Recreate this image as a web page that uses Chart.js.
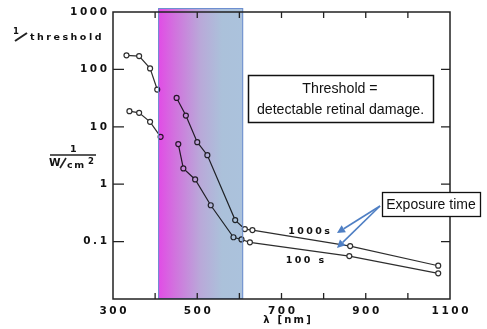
<!DOCTYPE html>
<html>
<head>
<meta charset="utf-8">
<script src="https://cdn.jsdelivr.net/npm/chart.js@4/dist/chart.umd.min.js"></script>
<style>
  html, body { margin: 0; padding: 0; background: #fff; }
  #wrap { width: 487px; height: 329px; }
</style>
</head>
<body>
<div id="wrap"><canvas id="c" width="487" height="329"></canvas></div>
<script>
// ---- data ----
const wl1000  = [332, 362, 388, 405, 451, 473, 500, 524, 590, 613, 631, 863, 1072];
const thr1000 = [176, 171, 104, 44.6, 31.8, 15.7, 5.4, 3.2, 0.237, 0.165, 0.159, 0.0836, 0.038];
const wl100   = [339, 362, 388, 413, 455, 467, 495, 532, 586, 605, 625, 861, 1072];
const thr100  = [18.7, 17.5, 12.2, 6.7, 5.0, 1.88, 1.21, 0.43, 0.119, 0.109, 0.097, 0.056, 0.028];
const gapAfterIndex = 3;             // no line between the UV group and the visible group
const bandNm = [407, 609];           // shaded visible band (nm)
const xTickValues = [300, 500, 700, 900, 1100];
const xTickLabels = ['300', '500', '700', '900', '1100'];
const xMinorTicks = [400, 500, 600, 700, 800, 900, 1000];
const yTickValues = [1000, 100, 10, 1, 0.1];
const yTickLabels = ['1000', '100', '10', '1', '0.1'];
const seriesLabels = ['1000s', '100 s'];

const toPts = (xs, ys) => xs.map((v, i) => ({x: v, y: ys[i]}));
const LINE = '#2e2e2e';

function ds(label, xs, ys) {
  return {
    label, data: toPts(xs, ys),
    borderColor: LINE, borderWidth: 1.2,
    pointRadius: 2.5, pointBorderWidth: 1.2,
    pointBorderColor: LINE, pointBackgroundColor: '#fff',
    tension: 0,
    segment: { borderColor: c => c.p0DataIndex === gapAfterIndex ? 'rgba(0,0,0,0)' : LINE }
  };
}

function spacedText(ctx, text, x, y, align, spacing) {
  ctx.save();
  ctx.letterSpacing = spacing + 'px';
  const w = ctx.measureText(text).width - spacing;
  let sx = x;
  if (align === 'right') sx = x - w;
  else if (align === 'center') sx = x - w / 2;
  ctx.textAlign = 'left';
  ctx.fillText(text, sx, y);
  ctx.restore();
}

const overlay = {
  id: 'overlay',
  beforeDraw(chart) {
    const ctx = chart.ctx;
    ctx.save(); ctx.fillStyle = '#fff'; ctx.fillRect(0, 0, chart.width, chart.height); ctx.restore();
  },
  afterDatasetsDraw(chart) {
    const {ctx, chartArea: a, scales: {x}} = chart;
    const x0 = x.getPixelForValue(bandNm[0]), x1 = x.getPixelForValue(bandNm[1]);
    ctx.save();
    ctx.globalCompositeOperation = 'multiply';
    const g = ctx.createLinearGradient(x0, 0, x1, 0);
    g.addColorStop(0, '#e24be6');
    g.addColorStop(0.2, '#d173de');
    g.addColorStop(0.5, '#b9a9d9');
    g.addColorStop(0.75, '#abc1da');
    g.addColorStop(1, '#abc2dc');
    ctx.fillStyle = g;
    ctx.fillRect(x0, a.top - 4, x1 - x0, a.bottom - a.top + 4);
    ctx.restore();
    ctx.save();
    ctx.strokeStyle = '#6d8fd0'; ctx.lineWidth = 1;
    ctx.strokeRect(x0 + 0.5, a.top - 3.5, x1 - x0 - 1, a.bottom - a.top + 3);
    ctx.restore();
  },
  afterDraw(chart) {
    const {ctx, chartArea: a, scales: {x, y}} = chart;
    ctx.save();
    // frame
    ctx.strokeStyle = '#222'; ctx.lineWidth = 1.5;
    ctx.strokeRect(a.left, a.top, a.right - a.left, a.bottom - a.top);
    ctx.lineWidth = 1.3;
    // y ticks (inward, both sides)
    yTickValues.forEach(v => {
      const py = y.getPixelForValue(v);
      if (py <= a.top + 1) return;
      ctx.beginPath();
      ctx.moveTo(a.left, py); ctx.lineTo(a.left + 11, py);
      ctx.moveTo(a.right, py); ctx.lineTo(a.right - 9, py);
      ctx.stroke();
    });
    // x ticks (inward, top and bottom)
    xMinorTicks.forEach(v => {
      const px = x.getPixelForValue(v);
      ctx.beginPath();
      ctx.moveTo(px, a.bottom); ctx.lineTo(px, a.bottom - 6);
      ctx.moveTo(px, a.top); ctx.lineTo(px, a.top + 6);
      ctx.stroke();
    });
    // tick labels
    ctx.fillStyle = '#111';
    ctx.font = 'bold 10.5px "DejaVu Sans"';
    ctx.textBaseline = 'middle';
    yTickValues.forEach((v, i) => {
      spacedText(ctx, yTickLabels[i], a.left - 6, y.getPixelForValue(v), 'right', 2.6);
    });
    xTickValues.forEach((v, i) => {
      spacedText(ctx, xTickLabels[i], x.getPixelForValue(v), a.bottom + 12, 'center', 2.6);
    });
    // axis titles
    ctx.font = 'bold 9.5px "DejaVu Sans"';
    spacedText(ctx, 'threshold', 30, 38, 'left', 2.5);
    ctx.font = 'bold 8.5px "DejaVu Sans"';
    ctx.fillText('1', 13, 32);
    ctx.beginPath(); ctx.lineWidth = 2; ctx.moveTo(15, 41); ctx.lineTo(27, 33); ctx.stroke();
    // 1 / W/cm2
    ctx.font = 'bold 9.5px "DejaVu Sans"';
    ctx.fillText('1', 70, 150);
    ctx.beginPath(); ctx.lineWidth = 1.3; ctx.moveTo(50, 155); ctx.lineTo(96, 155); ctx.stroke();
    ctx.font = 'bold 10.5px "DejaVu Sans"';
    ctx.fillText('W', 49, 163);
    ctx.beginPath(); ctx.lineWidth = 1.6; ctx.moveTo(60, 168); ctx.lineTo(66, 158); ctx.stroke();
    ctx.font = 'bold 9.5px "DejaVu Sans"';
    spacedText(ctx, 'cm', 67, 166, 'left', 1.5);
    ctx.font = 'bold 8.5px "DejaVu Sans"';
    ctx.fillText('2', 88, 162);
    // x title
    ctx.font = 'bold 10px "DejaVu Sans"';
    spacedText(ctx, '\u03bb [nm]', 287, 320, 'center', 2.2);
    // series labels
    ctx.font = 'bold 9.5px "DejaVu Sans"';
    spacedText(ctx, seriesLabels[0], 309, 232, 'center', 2.4);
    spacedText(ctx, seriesLabels[1], 305, 261, 'center', 2.4);

    // Threshold box
    ctx.fillStyle = '#fff';
    ctx.fillRect(248, 75, 185, 47);
    ctx.strokeStyle = '#111'; ctx.lineWidth = 1.5;
    ctx.strokeRect(248.5, 75.5, 185, 47);
    ctx.fillStyle = '#111';
    ctx.font = '14.2px "Liberation Sans"';
    ctx.textAlign = 'center';
    ctx.fillText('Threshold =', 340, 89);
    ctx.fillText('detectable retinal damage.', 340.5, 110);

    // Exposure time box
    ctx.fillStyle = '#fff';
    ctx.fillRect(382, 192, 98, 24);
    ctx.strokeStyle = '#111'; ctx.lineWidth = 1.3;
    ctx.strokeRect(382.5, 192.5, 98, 24);
    ctx.fillStyle = '#111';
    ctx.font = '14px "Liberation Sans"';
    ctx.fillText('Exposure time', 431, 205);

    // arrows
    const arrow = (x0, y0, x1, y1) => {
      ctx.strokeStyle = '#4f7fc4'; ctx.fillStyle = '#4f7fc4'; ctx.lineWidth = 1.6;
      const ang = Math.atan2(y1 - y0, x1 - x0), L = 8, W = 4;
      const bx = x1 - L * Math.cos(ang), by = y1 - L * Math.sin(ang);
      ctx.beginPath(); ctx.moveTo(x0, y0); ctx.lineTo(bx, by); ctx.stroke();
      ctx.beginPath();
      ctx.moveTo(x1, y1);
      ctx.lineTo(bx + W * Math.sin(ang), by - W * Math.cos(ang));
      ctx.lineTo(bx - W * Math.sin(ang), by + W * Math.cos(ang));
      ctx.closePath(); ctx.fill();
    };
    arrow(380, 206, 337, 233);
    arrow(380, 206, 337, 248);
    ctx.restore();
  }
};

new Chart(document.getElementById('c'), {
  type: 'line',
  data: { datasets: [ds(seriesLabels[0], wl1000, thr1000), ds(seriesLabels[1], wl100, thr100)] },
  options: {
    responsive: false, animation: false, maintainAspectRatio: false,
    layout: { padding: { left: 113, right: 37, top: 12, bottom: 30 } },
    plugins: { legend: { display: false }, tooltip: { enabled: false } },
    scales: {
      x: { type: 'linear', min: 300, max: 1100, display: false },
      y: { type: 'logarithmic', min: 0.01, max: 1000, display: false }
    }
  },
  plugins: [overlay]
});
</script>
</body>
</html>
